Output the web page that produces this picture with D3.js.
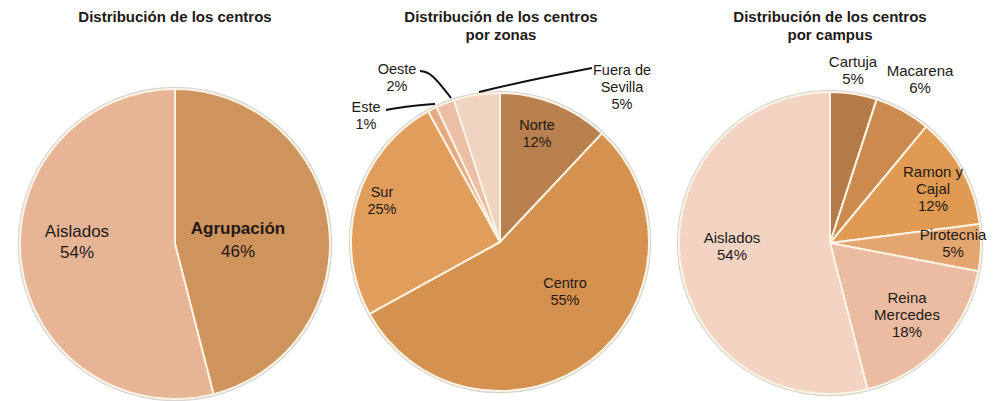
<!DOCTYPE html>
<html><head><meta charset="utf-8">
<script src="https://cdn.jsdelivr.net/npm/d3@7"></script>
<style>body{margin:0;background:#fff}svg{display:block}text{font-family:"Liberation Sans",Arial,sans-serif;fill:#1e1a16}</style>
</head><body>
<svg id="c" width="993" height="401"></svg>
<script>
// Chart 1
const cat1 = ["Agrupación","Aislados"];
const val1 = [46,54];
const col1 = ["#cf935c","#e7b596"];
// Chart 2
const cat2 = ["Norte","Centro","Sur","Este","Oeste","Fuera de Sevilla"];
const val2 = [12,55,25,1,2,5];
const col2 = ["#b9804f","#d4914f","#e09d5c","#e6aa80","#ecbfa4","#f1d3c1"];
// Chart 3
const cat3 = ["Cartuja","Macarena","Ramon y Cajal","Pirotecnia","Reina Mercedes","Aislados"];
const val3 = [5,6,12,5,18,54];
const col3 = ["#b47b48","#cb8b4f","#e09a52","#e4a671","#ebbca1","#f3d4c3"];

const titles = [["Distribución de los centros"],["Distribución de los centros","por zonas"],["Distribución de los centros","por campus"]];

const svg = d3.select("#c");

const charts = [
  {cat:cat1,val:val1,col:col1,cx:175,cy:244,r:155,title:titles[0],tx:175,fs:17,
   labels:[{x:238,y:229,lines:["Agrupación","46%"],bold:true,lh:23},{x:77,y:232,lines:["Aislados","54%"],lh:21}]},
  {cat:cat2,val:val2,col:col2,cx:500,cy:242,r:149,title:titles[1],tx:501,fs:14.5,
   labels:[{x:537,y:125,lines:["Norte","12%"]},{x:565,y:283,lines:["Centro","55%"]},{x:382,y:192,lines:["Sur","25%"]},
           {x:366,y:107,lines:["Este","1%"]},{x:397,y:69,lines:["Oeste","2%"]},{x:622,y:70,lines:["Fuera de","Sevilla","5%"]}],
   leaders:[[[386,110],[410,106],[435,104]],[[420,71],[431,72],[451,98]],[[592,68],[530,80],[479,92]]]},
  {cat:cat3,val:val3,col:col3,cx:830,cy:243,r:151,title:titles[2],tx:830,fs:15,
   labels:[{x:853,y:62,lines:["Cartuja","5%"]},{x:920,y:71,lines:["Macarena","6%"]},{x:933,y:172,lines:["Ramon y","Cajal","12%"]},
           {x:953,y:235,lines:["Pirotecnia","5%"]},{x:907,y:298,lines:["Reina","Mercedes","18%"]},{x:732,y:238,lines:["Aislados","54%"]}]}
];

charts.forEach(ch => {
  const g = svg.append("g").attr("transform",`translate(${ch.cx},${ch.cy})`);
  const pie = d3.pie().sort(null).value(d=>d)(ch.val);
  const arc = d3.arc().innerRadius(0).outerRadius(ch.r);
  g.append("circle").attr("r",ch.r+1.5).attr("fill","none").attr("stroke","#d9d4cf").attr("stroke-width",1.5);
  g.selectAll("path").data(pie).join("path")
    .attr("d",arc).attr("fill",(d,i)=>ch.col[i])
    .attr("stroke","#fbf3e3").attr("stroke-width",2).attr("stroke-linejoin","round");
  ch.title.forEach((t,i)=>{
    svg.append("text").attr("x",ch.tx).attr("y",22+i*18).attr("text-anchor","middle")
      .attr("font-size",15).attr("font-weight","bold").attr("fill","#222").text(t);
  });
  (ch.leaders||[]).forEach(p=>{
    svg.append("path").attr("d",d3.line().curve(d3.curveBasis)(p)).attr("fill","none").attr("stroke","#111").attr("stroke-width",2);
  });
  ch.labels.forEach(l=>{
    const lh = l.lh || 17;
    const t = svg.append("text").attr("text-anchor","middle").attr("font-size",ch.fs);
    l.lines.forEach((s,i)=>{
      t.append("tspan").attr("x",l.x).attr("y",l.y+5+i*lh)
        .attr("font-weight",(l.bold && i===0)?"bold":"normal").text(s);
    });
  });
});
</script>
</body></html>
